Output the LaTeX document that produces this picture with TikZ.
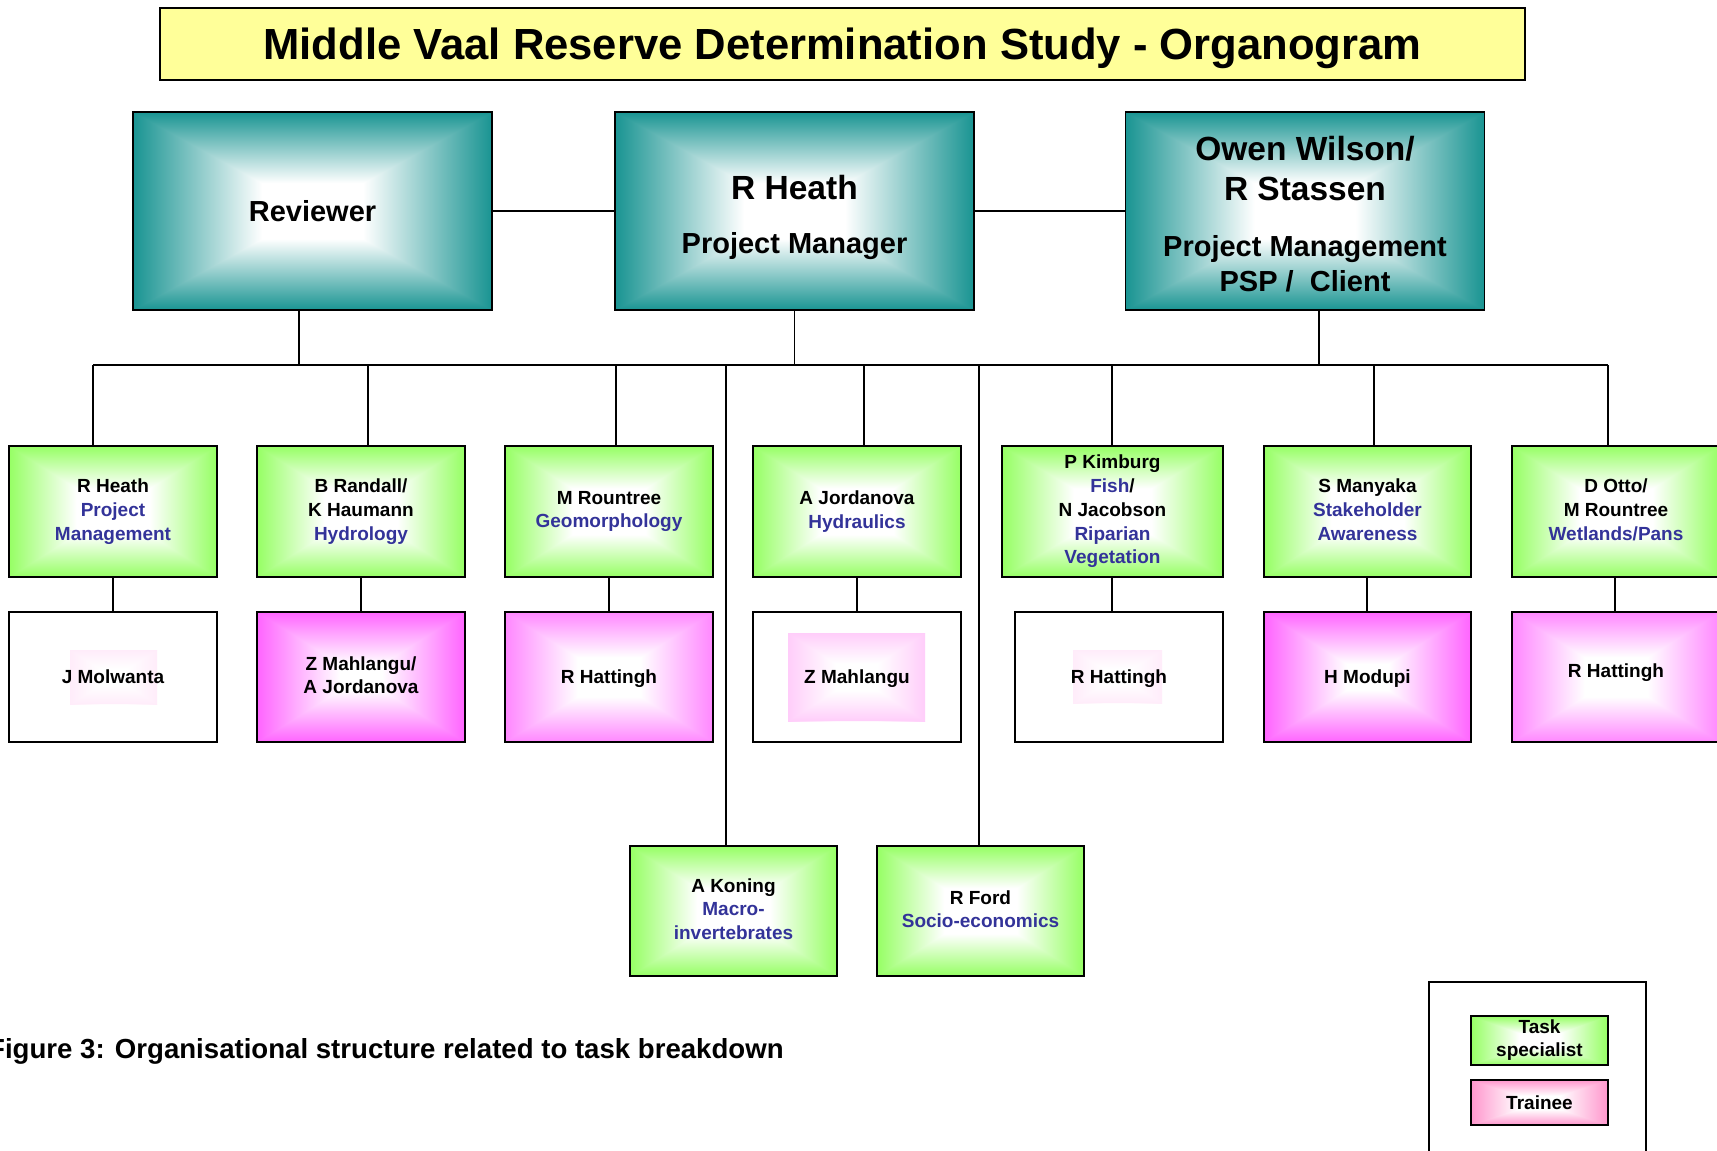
\documentclass[tikz,border=0pt]{standalone}
\usepackage{fontspec}
\setmainfont{Liberation Sans}
\usetikzlibrary{calc}
\definecolor{tealE}{RGB}{25,148,146}
\definecolor{greenE}{RGB}{150,255,100}
\definecolor{magE}{RGB}{255,100,255}
\definecolor{magL}{RGB}{255,135,255}
\definecolor{pinkE}{RGB}{255,150,205}
\definecolor{roleblue}{RGB}{51,51,153}
\definecolor{titleY}{RGB}{255,255,153}
\definecolor{pinkin}{RGB}{255,205,250}
\definecolor{pinkfaint}{RGB}{255,236,250}
\newcommand\mystrut{\rule[-0.212em]{0pt}{1.117em}}
\newcommand\headstrut{\rule[-0.212em]{0pt}{\dimexpr1.117em+10pt\relax}}
\newcommand\deepstrut{\rule[\dimexpr-0.212em-12pt\relax]{0pt}{\dimexpr1.117em+12pt\relax}}
\newcommand\rolet[1]{\textcolor{roleblue}{#1}}
\newcommand\gcolor{white}
\newcommand\gfrac{0.3}
\newcommand\rgfill{%
    \coordinate (gNW) at (path picture bounding box.north west);
    \coordinate (gNE) at (path picture bounding box.north east);
    \coordinate (gSW) at (path picture bounding box.south west);
    \coordinate (gSE) at (path picture bounding box.south east);
    \coordinate (gC) at (path picture bounding box.center);
    \coordinate (gL) at ($(gC)!\gfrac!(gNW)$);
    \coordinate (gR) at ($(gC)!\gfrac!(gSE)$);
    \shade[left color=\gcolor, right color=white] (gSW) rectangle (gL |- gNW);
    \shade[left color=white, right color=\gcolor] (gR |- gSW) rectangle (gNE);
    \begin{scope}
      \clip (gNW) -- (gC) -- (gNE) -- cycle;
      \shade[top color=\gcolor, bottom color=white] (gNW) rectangle (gNE |- gL);
    \end{scope}
    \begin{scope}
      \clip (gSW) -- (gC) -- (gSE) -- cycle;
      \shade[top color=white, bottom color=\gcolor] (gSW) rectangle (gSE |- gR);
    \end{scope}
}
\tikzset{
  gradbox/.code 2 args={\def\gcolor{#1}\def\gfrac{#2}\tikzset{path picture={\rgfill}}},
  bx/.style={draw=black, line width=1.8pt, fill=white, inner sep=0pt, align=center,
    font=\bfseries\fontsize{19}{23.7}\selectfont,
    execute at begin node=\mystrut, execute at end node=\mystrut},
  headbox/.style={bx, minimum width=359pt, minimum height=198pt, gradbox={tealE}{0.28},
    font=\bfseries\fontsize{29}{35}\selectfont},
  taskbox/.style={bx, minimum width=208pt, minimum height=131pt, gradbox={greenE}{0.35}},
  trainbox/.style={bx, minimum width=208pt, minimum height=130pt, gradbox={magE}{0.2}},
  lighttrain/.style={bx, minimum width=208pt, minimum height=130pt, gradbox={magL}{0.3}},
  plainbox/.style={bx, fill=none, minimum width=208pt, minimum height=130pt},
  conn/.style={draw=black, line width=1.6pt},
}
\begin{document}
\begin{tikzpicture}[x=1pt,y=-1pt]
\useasboundingbox (0,0) rectangle (1717,1151);
\fill[white] (0,0) rectangle (1717,1151);

% title
\node[draw=black, line width=1.8pt, fill=titleY, minimum width=1365pt, minimum height=72pt,
  inner sep=0pt, font=\bfseries\fontsize{43.6}{48}\selectfont, execute at begin node=\mystrut]
  (title) at (842.5,44) {Middle Vaal Reserve Determination Study - Organogram};

% top row
\node[headbox] (rev) at (312.5,211) {Reviewer};
\node[headbox] (pm) at (794.5,211) {\headstrut{\fontsize{33.5}{40}\selectfont R Heath}\\[19pt]Project Manager};
\node[headbox] (owen) at (1305,211) {\headstrut{\fontsize{33.5}{40}\selectfont Owen Wilson/}\\[5pt]{\fontsize{33.5}{40}\selectfont R Stassen}\\[21pt]Project Management\\PSP /~~Client};

% middle row
\node[taskbox] (m1) at (113,511.5) {R Heath\\\rolet{Project}\\\rolet{Management}};
\node[taskbox] (m2) at (361,511.5) {B Randall/\\K Haumann\\\rolet{Hydrology}};
\node[taskbox] (m3) at (609,511.5) {M Rountree\\\rolet{Geomorphology}};
\node[taskbox] (m4) at (857,511.5) {A Jordanova\\\rolet{Hydraulics}};
\node[taskbox, minimum width=221pt] (m5) at (1112.5,511.5) {P Kimburg\\\rolet{Fish}/\\N Jacobson\\\rolet{Riparian}\\\rolet{Vegetation}};
\node[taskbox, minimum width=207pt] (m6) at (1367.5,511.5) {S Manyaka\\\rolet{Stakeholder}\\\rolet{Awareness}};
\node[taskbox] (m7) at (1616,511.5) {D Otto/\\M Rountree\\\rolet{Wetlands/Pans}};

% lower row
\fill[white, gradbox={pinkfaint}{0.3}] (70,650) rectangle (157,704);
\fill[white, gradbox={pinkin}{0.3}] (788,633) rectangle (925,721);
\fill[white, gradbox={pinkfaint}{0.3}] (1073,650) rectangle (1162,703);
\node[plainbox] (l1) at (113,677) {J Molwanta};
\node[trainbox] (l2) at (361,677) {Z Mahlangu/\\A Jordanova};
\node[lighttrain] (l3) at (609,677) {R Hattingh};
\node[plainbox] (l4) at (857,677) {Z Mahlangu};
\node[plainbox] (l5) at (1119,677) {R Hattingh};
\node[trainbox, minimum width=207pt] (l6) at (1367.5,677) {H Modupi};
\node[lighttrain, execute at end node=\deepstrut] (l7) at (1616,677) {R Hattingh};

% bottom row
\node[taskbox, minimum width=207pt, minimum height=130pt] (k) at (733.5,911) {A Koning\\\rolet{Macro-}\\\rolet{invertebrates}};
\node[taskbox, minimum width=207pt, minimum height=130pt] (f) at (980.5,911) {R Ford\\\rolet{Socio-economics}};

% connectors
\draw[conn] (rev) -- (pm);
\draw[conn] (pm) -- (owen);
\coordinate (bL) at (93,365);
\coordinate (bR) at (1608,365);
\draw[conn] (bL) -- (bR);
\draw[conn] ([xshift=-13.5pt]rev.south) -- ([xshift=-13.5pt]rev.south |- bL);
\draw[conn] (pm.south) -- (pm.south |- bL);
\draw[conn] ([xshift=14pt]owen.south) -- ([xshift=14pt]owen.south |- bL);
\foreach \i/\x in {1/93,2/368,3/616,4/864,5/1112,6/1374,7/1608}{
  \coordinate (bt\i) at (\x,365);
  \draw[conn] (bt\i) -- (bt\i |- m\i.north);
}
\foreach \i/\x in {1/113,2/361,3/609,4/857,5/1112,6/1367,7/1615}{
  \coordinate (lc\i) at (\x,600);
  \draw[conn] (lc\i |- m\i.south) -- (lc\i |- l\i.north);
}
\coordinate (bk) at (726,365);
\coordinate (bf) at (979,365);
\draw[conn] (bk) -- (bk |- k.north);
\draw[conn] (bf) -- (bf |- f.north);

% caption
\node[anchor=base west, inner sep=0pt, font=\bfseries\fontsize{27.6}{33}\selectfont] (cap) at (-12,1058) {Figure 3: Organisational structure related to task breakdown};

% legend
\node[draw=black, line width=1.8pt, minimum width=217pt, minimum height=240pt, inner sep=0pt] (leg) at (1537.5,1102) {};
\node[bx, minimum width=137pt, minimum height=49pt, gradbox={greenE}{0.3}, font=\bfseries\fontsize{19}{23}\selectfont] (lt) at (1539.5,1040.5) {Task\\specialist};
\node[bx, minimum width=137pt, minimum height=45pt, gradbox={pinkE}{0.3}] (lp) at (1539.5,1102.5) {Trainee};
\end{tikzpicture}
\end{document}
